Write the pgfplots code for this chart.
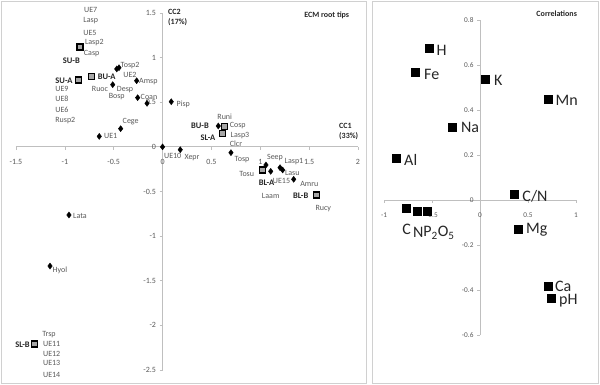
\documentclass[border=0pt]{standalone}
\usepackage{pgfplots}
\pgfplotsset{compat=1.18}
\usepackage{fontspec}
\setmainfont{Carlito}
\definecolor{axgray}{HTML}{BFBFBF}
\definecolor{txtgray}{HTML}{595959}
\definecolor{sqfill}{HTML}{A6A6A6}
\definecolor{framec}{HTML}{D0D0D0}
\definecolor{dark}{HTML}{262626}
\newcommand{\spl}[3]{\node[font=\fontsize{8}{8}\selectfont, text=txtgray, inner sep=0pt] at (#1,#2) {#3};}
\newcommand{\grp}[3]{\node[font=\fontsize{8.5}{9}\selectfont\bfseries, text=dark, inner sep=0pt] at (#1,#2) {#3};}
\newcommand{\corl}[3]{\node[font=\fontsize{16}{17}\selectfont, text=dark, inner sep=0pt] at (#1,#2) {#3};}
\pgfplotsset{
  panel/.style={
    scale only axis, anchor=south west,
    axis lines=middle,
    axis line style={axgray, -, line width=0.8pt},
    tick style={axgray, line width=0.6pt},
    major tick length=3pt,
    tick align=outside,
    hide obscured x ticks=false, hide obscured y ticks=false,
    /pgf/number format/assume math mode=true,
    tick label style={text=txtgray},
    clip=false,
  }
}
\begin{document}
\begin{tikzpicture}
\useasboundingbox (0,0) rectangle (600pt,384pt);
\draw[framec, line width=0.8pt] (1.5pt,1pt) rectangle (366pt,382.5pt);
\draw[framec, line width=0.8pt] (372pt,1pt) rectangle (598.5pt,382.5pt);

% ---------------- left panel ----------------
\begin{axis}[panel,
  at={(16pt,14pt)}, width=342pt, height=357pt,
  xmin=-1.5, xmax=2, ymin=-2.5, ymax=1.5,
  xtick={-1.5,-1,-0.5,0,0.5,1,1.5,2},
  ytick={-2.5,-2,-1.5,-1,-0.5,0,0.5,1,1.5},
  xticklabel style={font=\fontsize{8}{8}\selectfont, yshift=-6pt},
  yticklabel style={font=\fontsize{8}{8}\selectfont},
]
% species (diamonds)
\addplot[only marks, mark=diamond*, mark size=3pt, color=black] coordinates {
(-0.469,0.873) (-0.446,0.887) (-0.265,0.741) (-0.510,0.697) (-0.255,0.551)
(-0.159,0.488) (0.089,0.506) (-0.429,0.204) (-0.648,0.118) (0.0,0.0)
(0.181,-0.032) (0.570,0.234) (0.700,-0.065) (1.058,-0.203) (1.107,-0.274)
(1.202,-0.233) (1.229,-0.259) (1.342,-0.363) (-0.958,-0.763) (-1.152,-1.335)
};
% sites (squares)
\addplot[only marks, mark=square*, mark size=3pt,
  mark options={draw=black, fill=sqfill, line width=1.3pt}] coordinates {
(-0.845,1.119) (-0.862,0.749) (-0.725,0.791) (0.636,0.226) (0.615,0.152)
(1.025,-0.259) (1.573,-0.539) (-1.313,-2.209)
};
\end{axis}

% ---------------- right panel ----------------
\begin{axis}[panel,
  at={(384pt,49pt)}, width=192pt, height=315pt,
  xmin=-1, xmax=1, ymin=-0.6, ymax=0.8,
  xtick={-1,-0.5,0,0.5,1},
  ytick={-0.6,-0.4,-0.2,0,0.2,0.4,0.6,0.8},
  xticklabel style={font=\fontsize{7.3}{8}\selectfont, yshift=-6pt},
  yticklabel style={font=\fontsize{7.3}{8}\selectfont},
  yticklabel={\pgfmathprintnumber[fixed,precision=1]{\tick}},
]
\addplot[only marks, mark=square*, mark size=4pt, color=black] coordinates {
(-0.534,0.674) (-0.670,0.566) (0.059,0.538) (0.711,0.448) (-0.289,0.324)
(-0.875,0.185) (0.357,0.024) (-0.764,-0.037) (-0.649,-0.049) (-0.549,-0.052)
(0.403,-0.128) (0.711,-0.385) (0.740,-0.437)
};
\end{axis}

\begin{scope}[x=1pt, y=-1pt, yshift=384pt]
% titles
\node[font=\fontsize{8}{9}\selectfont\bfseries, text=dark] at (326.7,15.7) {ECM root tips};
\node[font=\fontsize{8}{9}\selectfont\bfseries, text=dark, align=left, anchor=north west, inner sep=0pt] at (168,9) {CC2\\[1pt](17\%)};
\node[font=\fontsize{8}{9}\selectfont\bfseries, text=dark, align=left, anchor=north west, inner sep=0pt] at (339,123) {CC1\\[1pt](33\%)};
\node[font=\fontsize{8}{9}\selectfont\bfseries, text=dark] at (556.7,13.3) {Correlations};
% species labels
\spl{90.7}{10}{UE7}
\spl{90.7}{21}{Lasp}
\spl{90}{32.7}{UE5}
\spl{94.3}{42.3}{Lasp2}
\spl{91.7}{53.3}{Casp}
\spl{62}{89.3}{UE9}
\spl{62}{99}{UE8}
\spl{62}{110}{UE6}
\spl{65.3}{120.7}{Rusp2}
\spl{130}{65.7}{Tosp2}
\spl{130}{74.7}{UE2}
\spl{148.3}{81.3}{Amsp}
\spl{100}{89.3}{Ruoc}
\spl{125}{89.3}{Desp}
\spl{116.7}{96.7}{Bosp}
\spl{149}{97.3}{Coan}
\spl{183.3}{104}{Pisp}
\spl{130.7}{121.3}{Cege}
\spl{110.7}{136.3}{UE1}
\spl{172.7}{156.3}{UE10}
\spl{192}{157.3}{Xepr}
\spl{224.7}{116.3}{Runi}
\spl{237.7}{126}{Cosp}
\spl{240}{135.3}{Lasp3}
\spl{236}{144}{Clcr}
\spl{242}{159.3}{Tosp}
\spl{275}{157.3}{Seep}
\spl{294}{161.3}{Lasp1}
\spl{246.7}{174}{Tosu}
\spl{292.3}{172.7}{Lasu}
\spl{281.5}{181}{UE15}
\spl{309.3}{184.3}{Amru}
\spl{270.7}{196}{Laam}
\spl{323.3}{208.3}{Rucy}
\spl{80}{215.7}{Lata}
\spl{60}{270}{Hyol}
\spl{49}{334.3}{Trsp}
\spl{51.7}{344.3}{UE11}
\spl{51.7}{353.7}{UE12}
\spl{51.7}{363.3}{UE13}
\spl{51.7}{375}{UE14}
% group labels
\grp{71.3}{61}{SU-B}
\grp{64}{80.7}{SU-A}
\grp{106.7}{76.7}{BU-A}
\grp{200}{126}{BU-B}
\grp{208}{137.3}{SL-A}
\grp{266.5}{182.7}{BL-A}
\grp{300.7}{196}{BL-B}
\grp{22.5}{344.3}{SL-B}
% correlation labels
\corl{441.7}{50}{H}
\corl{431.7}{74}{Fe}
\corl{498.3}{80}{K}
\corl{566.7}{100}{Mn}
\corl{470}{127.7}{Na}
\corl{410.7}{160}{Al}
\corl{535}{196}{C/N}
\corl{406.7}{229.3}{C}
\corl{418.3}{232.7}{N}
\corl{439}{232.7}{P\textsubscript{2}O\textsubscript{5}}
\corl{536.7}{230}{Mg}
\corl{563.3}{286.5}{Ca}
\corl{568.3}{300.5}{pH}
\end{scope}
\end{tikzpicture}
\end{document}
